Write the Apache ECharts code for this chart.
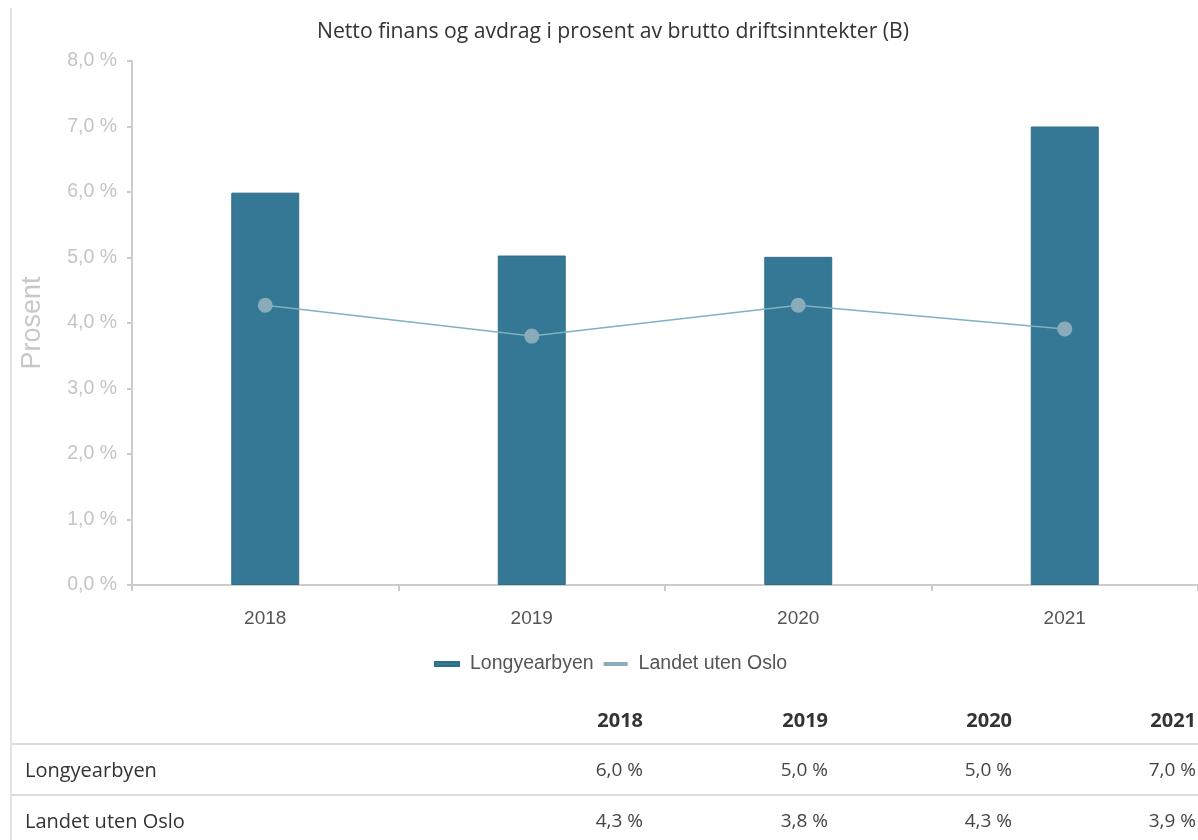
<!DOCTYPE html>
<html><head><meta charset="utf-8">
<script src="https://cdn.jsdelivr.net/npm/echarts@6/dist/echarts.min.js"></script>
<style>html,body{margin:0;padding:0;background:#fff}#c{width:1198px;height:840px}</style>
</head><body><div id="c"></div>
<script>
const titleText = 'Netto finans og avdrag i prosent av brutto driftsinntekter (B)';
const years = ['2018', '2019', '2020', '2021'];
const longyearbyen = [5.99, 5.03, 5.01, 7.0];
const landetUtenOslo = [4.27, 3.8, 4.27, 3.91];
const seriesNames = ['Longyearbyen', 'Landet uten Oslo'];

const fmt = v => v.toFixed(1).replace('.', ',') + ' %';
const chart = echarts.init(document.getElementById('c'));

const tableFont = '"Open Sans", "Noto Sans", sans-serif';
const sansFont = '"Liberation Sans", Arial, sans-serif';
const colX = [643, 828, 1012, 1196];
const graphics = [
  {type: 'line', shape: {x1: 11, y1: 8, x2: 11, y2: 840}, style: {stroke: '#e3e3e3', lineWidth: 2}},
  {type: 'line', shape: {x1: 11, y1: 744, x2: 1198, y2: 744}, style: {stroke: '#dcdcdc', lineWidth: 2}},
  {type: 'line', shape: {x1: 11, y1: 795, x2: 1198, y2: 795}, style: {stroke: '#dcdcdc', lineWidth: 2}},
];
years.forEach((y, i) => {
  graphics.push({type: 'text', x: colX[i], y: 721, style: {text: y, font: 'bold 20px ' + tableFont, fill: '#333', align: 'right', verticalAlign: 'middle'}});
});
[longyearbyen, landetUtenOslo].forEach((arr, r) => {
  const yy = r === 0 ? 771 : 822;
  graphics.push({type: 'text', x: 25, y: yy, style: {text: seriesNames[r], font: '20px ' + tableFont, fill: '#333', align: 'left', verticalAlign: 'middle'}});
  arr.forEach((v, i) => {
    graphics.push({type: 'text', x: colX[i], y: yy, style: {text: fmt(v), font: '19px ' + tableFont, fill: '#444', align: 'right', verticalAlign: 'middle'}});
  });
});

chart.setOption({
  animation: false,
  title: {text: titleText, left: 608, textAlign: 'center', top: 16,
    textStyle: {fontFamily: tableFont, fontSize: 21.2, fontWeight: 'normal', color: '#333'}},
  legend: {top: 649, left: 429, itemGap: 10, itemWidth: 24, itemHeight: 4, icon: 'rect',
    textStyle: {fontFamily: sansFont, fontSize: 19.5, color: '#555', padding: [0, 0, 0, 6]},
    data: seriesNames},
  grid: {left: 132, right: 0, top: 61, bottom: 255, containLabel: false},
  xAxis: {type: 'category', data: years,
    axisLine: {lineStyle: {color: '#cccccc', width: 2}},
    axisTick: {show: true, length: 6, lineStyle: {color: '#cccccc', width: 2}},
    axisLabel: {fontFamily: sansFont, fontSize: 19, color: '#555', margin: 24}},
  yAxis: {type: 'value', min: 0, max: 8, interval: 1,
    name: 'Prosent', nameLocation: 'middle', nameGap: 86, nameRotate: 90,
    nameTextStyle: {fontFamily: sansFont, fontSize: 27, color: '#c8c8c8'},
    axisLine: {show: true, lineStyle: {color: '#cccccc', width: 2}},
    axisTick: {show: true, length: 5, lineStyle: {color: '#cccccc', width: 2}},
    splitLine: {show: false},
    axisLabel: {formatter: v => fmt(v), fontFamily: sansFont, fontSize: 19.5, color: '#c4c4c4', margin: 15}},
  series: [
    {name: seriesNames[0], type: 'bar', data: longyearbyen, barWidth: '25.5%',
      itemStyle: {color: '#357895', borderColor: '#2f6f8b', borderWidth: 1}, z: 2},
    {name: seriesNames[1], type: 'line', data: landetUtenOslo, symbol: 'circle', symbolSize: 15,
      lineStyle: {color: '#7fb0c4', width: 1.5}, itemStyle: {color: '#8aabba'}, z: 3}
  ],
  graphic: graphics
});
</script></body></html>
